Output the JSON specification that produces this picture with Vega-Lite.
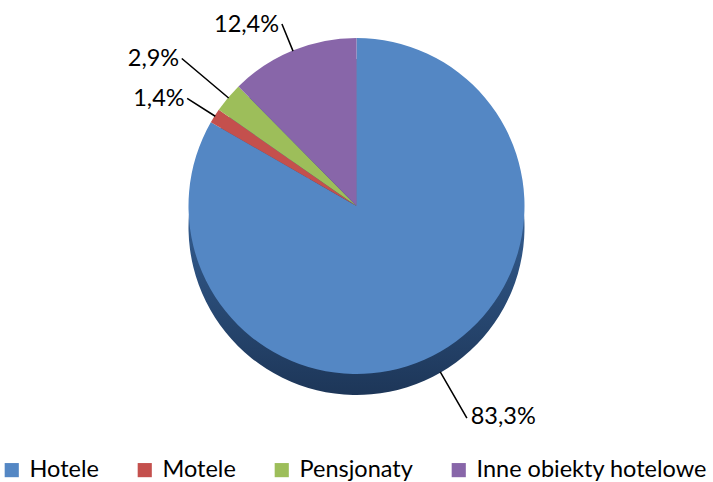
{
  "$schema": "https://vega.github.io/schema/vega-lite/v6.json",
  "width": 713,
  "height": 412,
  "padding": 0,
  "background": "#ffffff",
  "config": {"view": {"stroke": null}, "font": "Lato"},
  "data": {
    "values": [
      {"name": "Hotele", "value": 83.3},
      {"name": "Motele", "value": 1.4},
      {"name": "Pensjonaty", "value": 2.9},
      {"name": "Inne obiekty hotelowe", "value": 12.4}
    ]
  },
  "transform": [
    {"window": [{"op": "row_number", "as": "i"}, {"op": "sum", "field": "value", "as": "cum"}], "frame": [null, 0]},
    {"calculate": "datum.cum - datum.value / 2", "as": "mid"},
    {"calculate": "datum.mid + 0.02", "as": "mid2"},
    {"calculate": "replace(format(datum.value, '.1f'), '.', ',') + '%'", "as": "lab"}
  ],
  "layer": [
    {
      "mark": {
        "type": "arc",
        "outerRadius": 168,
        "yOffset": 21,
        "fill": {
          "gradient": "linear",
          "x1": 0, "y1": 0, "x2": 0, "y2": 1,
          "stops": [
            {"offset": 0.45, "color": "#345D90"},
            {"offset": 1, "color": "#1D3658"}
          ]
        }
      },
      "encoding": {
        "theta": {"field": "value", "type": "quantitative", "stack": true, "scale": {"domain": [0, 100]}},
        "order": {"field": "i", "type": "quantitative"}
      }
    },
    {
      "mark": {"type": "arc", "outerRadius": 168},
      "encoding": {
        "theta": {"field": "value", "type": "quantitative", "stack": true, "scale": {"domain": [0, 100]}},
        "order": {"field": "i", "type": "quantitative"},
        "color": {
          "field": "name",
          "type": "nominal",
          "sort": ["Hotele", "Motele", "Pensjonaty", "Inne obiekty hotelowe"],
          "scale": {
            "domain": ["Hotele", "Motele", "Pensjonaty", "Inne obiekty hotelowe"],
            "range": ["#5487C4", "#C4504D", "#9DBE5A", "#8866A9"]
          },
          "legend": {
            "orient": "bottom",
            "direction": "horizontal",
            "title": null,
            "symbolType": "square",
            "symbolSize": 200,
            "symbolStrokeWidth": 0,
            "labelFontSize": 23.5,
            "labelFont": "Lato",
            "labelColor": "#000000",
            "labelLimit": 500,
            "labelOffset": 6,
            "columnPadding": 34,
            "offset": 46
          }
        }
      }
    },
    {
      "transform": [{"filter": "datum.name == 'Inne obiekty hotelowe'"}],
      "mark": {"type": "arc", "radius": 196, "radius2": 168, "fillOpacity": 0, "stroke": "#000000", "strokeWidth": 1.3},
      "encoding": {
        "theta": {"field": "mid", "type": "quantitative", "stack": null, "scale": {"domain": [0, 100]}},
        "theta2": {"field": "mid2"}
      }
    },
    {
      "transform": [{"filter": "datum.name == 'Pensjonaty'"}],
      "mark": {"type": "arc", "radius": 228, "radius2": 168, "fillOpacity": 0, "stroke": "#000000", "strokeWidth": 1.3},
      "encoding": {
        "theta": {"field": "mid", "type": "quantitative", "stack": null, "scale": {"domain": [0, 100]}},
        "theta2": {"field": "mid2"}
      }
    },
    {
      "transform": [{"filter": "datum.name == 'Motele'"}],
      "mark": {"type": "arc", "radius": 200, "radius2": 168, "fillOpacity": 0, "stroke": "#000000", "strokeWidth": 1.3},
      "encoding": {
        "theta": {"field": "mid", "type": "quantitative", "stack": null, "scale": {"domain": [0, 100]}},
        "theta2": {"field": "mid2"}
      }
    },
    {
      "transform": [{"filter": "datum.name == 'Hotele'"}],
      "mark": {"type": "arc", "radius": 220, "radius2": 168, "yOffset": 21, "fillOpacity": 0, "stroke": "#000000", "strokeWidth": 1.3},
      "encoding": {
        "theta": {"field": "mid", "type": "quantitative", "stack": null, "scale": {"domain": [0, 100]}},
        "theta2": {"field": "mid2"}
      }
    },
    {
      "transform": [{"filter": "datum.name == 'Inne obiekty hotelowe'"}],
      "mark": {"type": "text", "radius": 196, "align": "right", "baseline": "middle", "dx": -3, "fontSize": 23.5, "font": "Lato", "color": "#000000"},
      "encoding": {
        "theta": {"field": "mid", "type": "quantitative", "stack": null, "scale": {"domain": [0, 100]}},
        "text": {"field": "lab"}
      }
    },
    {
      "transform": [{"filter": "datum.name == 'Pensjonaty'"}],
      "mark": {"type": "text", "radius": 228, "align": "right", "baseline": "middle", "dx": -3, "fontSize": 23.5, "font": "Lato", "color": "#000000"},
      "encoding": {
        "theta": {"field": "mid", "type": "quantitative", "stack": null, "scale": {"domain": [0, 100]}},
        "text": {"field": "lab"}
      }
    },
    {
      "transform": [{"filter": "datum.name == 'Motele'"}],
      "mark": {"type": "text", "radius": 200, "align": "right", "baseline": "middle", "dx": -3, "fontSize": 23.5, "font": "Lato", "color": "#000000"},
      "encoding": {
        "theta": {"field": "mid", "type": "quantitative", "stack": null, "scale": {"domain": [0, 100]}},
        "text": {"field": "lab"}
      }
    },
    {
      "transform": [{"filter": "datum.name == 'Hotele'"}],
      "mark": {"type": "text", "radius": 220, "align": "left", "baseline": "middle", "dx": 4, "dy": 21, "fontSize": 23.5, "font": "Lato", "color": "#000000"},
      "encoding": {
        "theta": {"field": "mid", "type": "quantitative", "stack": null, "scale": {"domain": [0, 100]}},
        "text": {"field": "lab"}
      }
    }
  ]
}
